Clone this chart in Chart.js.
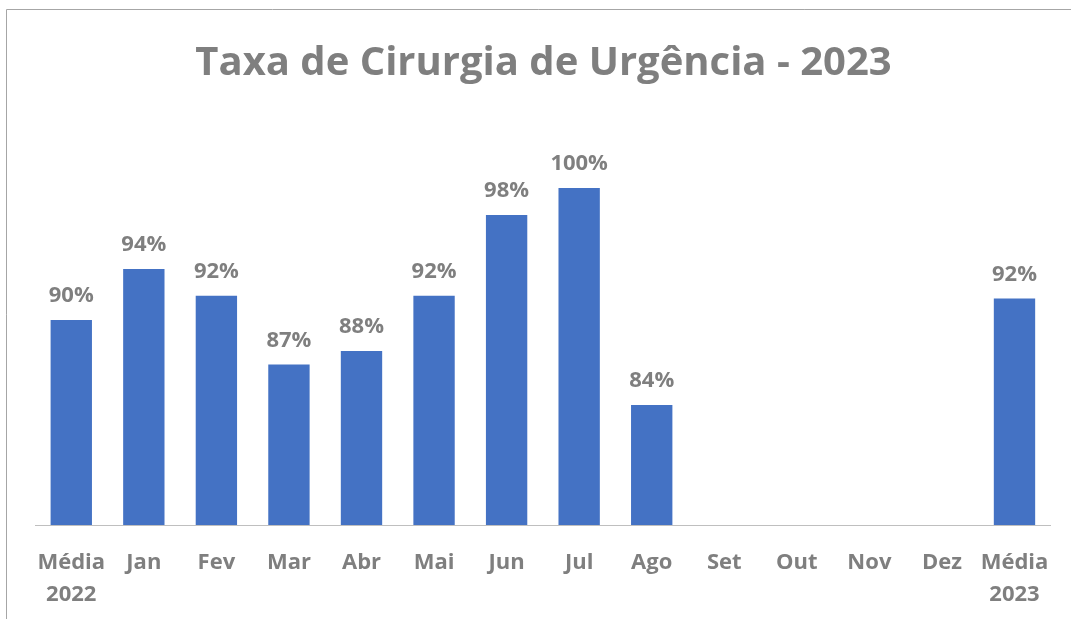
<!DOCTYPE html>
<html>
<head>
<meta charset="utf-8">
<script src="https://cdn.jsdelivr.net/npm/chart.js@4/dist/chart.umd.min.js"></script>
<style>
  html, body { margin: 0; padding: 0; background: #fff; }
  #wrap { width: 1071px; height: 619px; position: relative; }
</style>
</head>
<body>
<div id="wrap"><canvas id="c" width="1071" height="619"></canvas></div>
<script>
const titleText = "Taxa de Cirurgia de Urgência - 2023";
const categories = [["Média", "2022"], "Jan", "Fev", "Mar", "Abr", "Mai", "Jun", "Jul", "Ago", "Set", "Out", "Nov", "Dez", ["Média", "2023"]];
const rates = [90.2, 94, 92, 86.9, 87.9, 92, 98, 100, 83.9, null, null, null, null, 91.8];
const axisMin = 75;
const axisMax = 100;

const GRAY = "#7f7f7f";
const FONT = "'Open Sans', 'DejaVu Sans', sans-serif";

const frame = {
  id: "frame",
  beforeDraw(chart) {
    const ctx = chart.ctx;
    ctx.save();
    ctx.fillStyle = "#fff";
    ctx.fillRect(0, 0, chart.width, chart.height);
    ctx.strokeStyle = "#a6a6a6";
    ctx.lineWidth = 1;
    ctx.beginPath();
    ctx.moveTo(6.5, chart.height);
    ctx.lineTo(6.5, 9.5);
    ctx.lineTo(chart.width, 9.5);
    ctx.stroke();
    ctx.restore();
  }
};

const valueLabels = {
  id: "valueLabels",
  afterDatasetsDraw(chart) {
    const ctx = chart.ctx;
    const meta = chart.getDatasetMeta(0);
    const data = chart.data.datasets[0].data;
    ctx.save();
    ctx.font = "bold 22px " + FONT;
    ctx.fillStyle = GRAY;
    ctx.textAlign = "center";
    ctx.textBaseline = "middle";
    meta.data.forEach((bar, i) => {
      const v = data[i];
      if (v === null || v === undefined) return;
      ctx.fillText(Math.round(v) + "%", bar.x, bar.y - 24);
    });
    ctx.restore();
  }
};

new Chart(document.getElementById("c"), {
  type: "bar",
  data: {
    labels: categories,
    datasets: [{
      data: rates,
      backgroundColor: "#4472C4",
      borderWidth: 0,
      categoryPercentage: 1,
      barPercentage: 0.57
    }]
  },
  options: {
    responsive: false,
    animation: false,
    layout: { padding: { left: 35, right: 19, top: 0, bottom: 10 } },
    plugins: {
      legend: { display: false },
      tooltip: { enabled: false },
      title: {
        display: true,
        text: titleText,
        color: GRAY,
        font: { family: FONT, size: 40, weight: "bold", lineHeight: 1.2 },
        padding: { top: 40, bottom: 100 }
      }
    },
    scales: {
      x: {
        grid: { display: false, drawTicks: false },
        border: { display: true, color: "#bfbfbf", width: 1 },
        ticks: {
          color: GRAY,
          font: { family: FONT, size: 22, weight: "bold", lineHeight: 32 / 22 },
          padding: 22,
          maxRotation: 0,
          autoSkip: false
        },
        afterFit(scale) { scale.height = 84; }
      },
      y: {
        display: false,
        min: axisMin,
        max: axisMax
      }
    }
  },
  plugins: [frame, valueLabels]
});
</script>
</body>
</html>
